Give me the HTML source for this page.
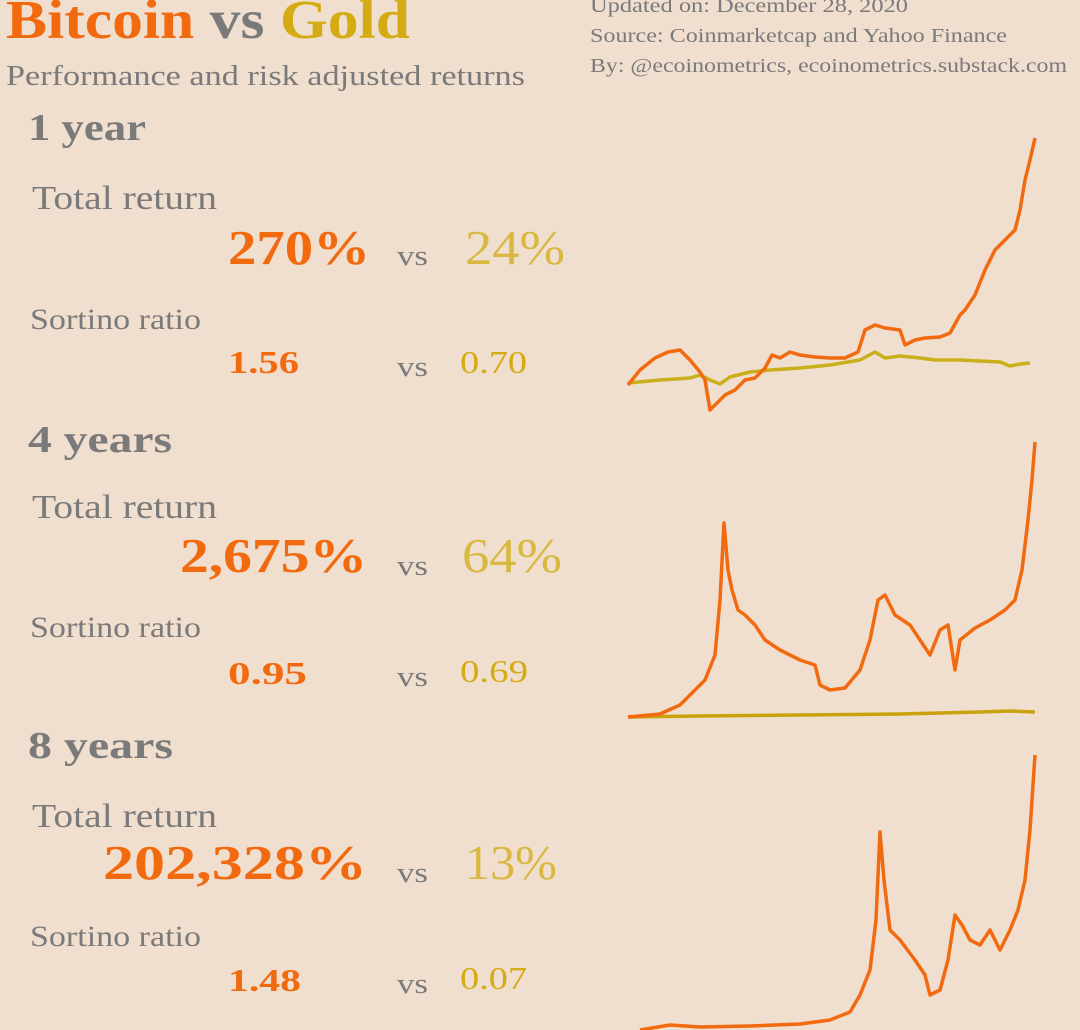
<!DOCTYPE html>
<html><head><meta charset="utf-8"><style>
html,body{margin:0;padding:0;background:#f0dece;}
body{width:1080px;height:1030px;position:relative;overflow:hidden;font-family:"Liberation Serif",serif;}
</style></head><body>
<svg width="1080" height="1030" xmlns="http://www.w3.org/2000/svg" style="position:absolute;left:0;top:0">
<g font-family="Liberation Serif, serif">
<text x="6" y="38" font-size="55" font-weight="bold" fill="#f26a10" textLength="404" lengthAdjust="spacingAndGlyphs">Bitcoin <tspan fill="#7a7a7a">vs</tspan> <tspan fill="#d4ab12">Gold</tspan></text>
<text x="6" y="85" font-size="29" fill="#7a7a7a" textLength="519" lengthAdjust="spacingAndGlyphs">Performance and risk adjusted returns</text>
<text x="590" y="12" font-size="20" fill="#7a7a7a" textLength="318" lengthAdjust="spacingAndGlyphs">Updated on: December 28, 2020</text>
<text x="590" y="42" font-size="20" fill="#7a7a7a" textLength="417" lengthAdjust="spacingAndGlyphs">Source: Coinmarketcap and Yahoo Finance</text>
<text x="590" y="72" font-size="20" fill="#7a7a7a" textLength="477" lengthAdjust="spacingAndGlyphs">By: @ecoinometrics, ecoinometrics.substack.com</text>

<g>
<text x="28" y="140" font-size="38" font-weight="bold" fill="#7a7a7a" textLength="118" lengthAdjust="spacingAndGlyphs">1 year</text>
<text x="32" y="209" font-size="34" fill="#7a7a7a" textLength="185" lengthAdjust="spacingAndGlyphs">Total return</text>
<text x="228" y="264" font-size="49" font-weight="bold" fill="#f26a10" textLength="142" lengthAdjust="spacingAndGlyphs">270%</text>
<text x="397" y="265" font-size="29" fill="#7a7a7a" textLength="31" lengthAdjust="spacingAndGlyphs">vs</text>
<text x="465" y="264" font-size="49" fill="#d9b840" textLength="100" lengthAdjust="spacingAndGlyphs">24%</text>
<text x="30" y="329" font-size="30" fill="#7a7a7a" textLength="171" lengthAdjust="spacingAndGlyphs">Sortino ratio</text>
<text x="228" y="373" font-size="32" font-weight="bold" fill="#f26a10" textLength="71" lengthAdjust="spacingAndGlyphs">1.56</text>
<text x="397" y="376" font-size="29" fill="#7a7a7a" textLength="31" lengthAdjust="spacingAndGlyphs">vs</text>
<text x="460" y="373" font-size="32" fill="#d4ab12" textLength="67" lengthAdjust="spacingAndGlyphs">0.70</text>
</g>
<g transform="translate(0,310)">
<text x="28" y="142" font-size="38" font-weight="bold" fill="#7a7a7a" textLength="144" lengthAdjust="spacingAndGlyphs">4 years</text>
<text x="32" y="208" font-size="34" fill="#7a7a7a" textLength="185" lengthAdjust="spacingAndGlyphs">Total return</text>
<text x="180" y="262" font-size="49" font-weight="bold" fill="#f26a10" textLength="187" lengthAdjust="spacingAndGlyphs">2,675%</text>
<text x="397" y="265" font-size="29" fill="#7a7a7a" textLength="31" lengthAdjust="spacingAndGlyphs">vs</text>
<text x="462" y="262" font-size="49" fill="#d9b840" textLength="100" lengthAdjust="spacingAndGlyphs">64%</text>
<text x="30" y="327" font-size="30" fill="#7a7a7a" textLength="171" lengthAdjust="spacingAndGlyphs">Sortino ratio</text>
<text x="228" y="374" font-size="32" font-weight="bold" fill="#f26a10" textLength="79" lengthAdjust="spacingAndGlyphs">0.95</text>
<text x="397" y="376" font-size="29" fill="#7a7a7a" textLength="31" lengthAdjust="spacingAndGlyphs">vs</text>
<text x="460" y="372" font-size="32" fill="#d4ab12" textLength="68" lengthAdjust="spacingAndGlyphs">0.69</text>
</g>
<g transform="translate(0,617)">
<text x="28" y="141" font-size="38" font-weight="bold" fill="#7a7a7a" textLength="145" lengthAdjust="spacingAndGlyphs">8 years</text>
<text x="32" y="210" font-size="34" fill="#7a7a7a" textLength="185" lengthAdjust="spacingAndGlyphs">Total return</text>
<text x="103" y="262" font-size="49" font-weight="bold" fill="#f26a10" textLength="264" lengthAdjust="spacingAndGlyphs">202,328%</text>
<text x="397" y="265" font-size="29" fill="#7a7a7a" textLength="31" lengthAdjust="spacingAndGlyphs">vs</text>
<text x="465" y="262" font-size="49" fill="#d9b840" textLength="92" lengthAdjust="spacingAndGlyphs">13%</text>
<text x="30" y="329" font-size="30" fill="#7a7a7a" textLength="171" lengthAdjust="spacingAndGlyphs">Sortino ratio</text>
<text x="228" y="374" font-size="32" font-weight="bold" fill="#f26a10" textLength="73" lengthAdjust="spacingAndGlyphs">1.48</text>
<text x="397" y="376" font-size="29" fill="#7a7a7a" textLength="31" lengthAdjust="spacingAndGlyphs">vs</text>
<text x="460" y="372" font-size="32" fill="#d4ab12" textLength="67" lengthAdjust="spacingAndGlyphs">0.07</text>
</g>
</g>
<g fill="none" stroke-width="3.5" stroke-linejoin="round">
<polyline stroke="#c9b01a" points="628,383 660,380 690,378 700,375 710,380 720,384 730,377 750,372 770,370 800,368 830,365 860,360 875,352 885,358 900,356 920,358 935,360 960,360 980,361 1000,362 1010,366 1020,364 1030,363"/>
<polyline stroke="#f26a10" points="628,385 640,370 655,358 668,352 680,350 690,360 700,372 705,380 710,410 715,405 725,395 735,390 745,380 755,378 765,368 772,355 780,358 790,352 800,355 815,357 830,358 845,358 858,352 865,330 875,325 885,328 900,330 905,345 915,340 925,338 940,337 950,333 960,315 965,310 975,295 985,270 995,250 1005,240 1015,230 1020,210 1025,180 1030,160 1035,138"/>
<polyline stroke="#c9a20e" points="628,717 700,716 800,715 900,714 980,712 1010,711 1035,712"/>
<polyline stroke="#f26a10" points="628,717 660,714 680,705 695,690 705,680 715,655 720,600 724,523 728,570 732,590 738,610 745,615 755,625 765,640 780,650 800,660 815,665 820,685 830,690 845,688 860,670 870,640 878,600 885,595 895,615 910,625 920,640 930,655 940,630 948,625 955,670 960,640 975,628 990,620 1005,610 1015,600 1022,570 1028,520 1032,480 1035,442"/>
<polyline stroke="#f26a10" points="640,1030 670,1025 700,1027 750,1026 800,1024 830,1020 850,1012 860,995 870,970 876,920 880,832 884,880 890,930 900,940 915,960 925,975 930,995 940,990 948,960 955,915 962,925 970,940 980,945 990,930 1000,950 1010,930 1018,910 1025,880 1030,830 1035,755"/>
</g>
</svg>
</body></html>
